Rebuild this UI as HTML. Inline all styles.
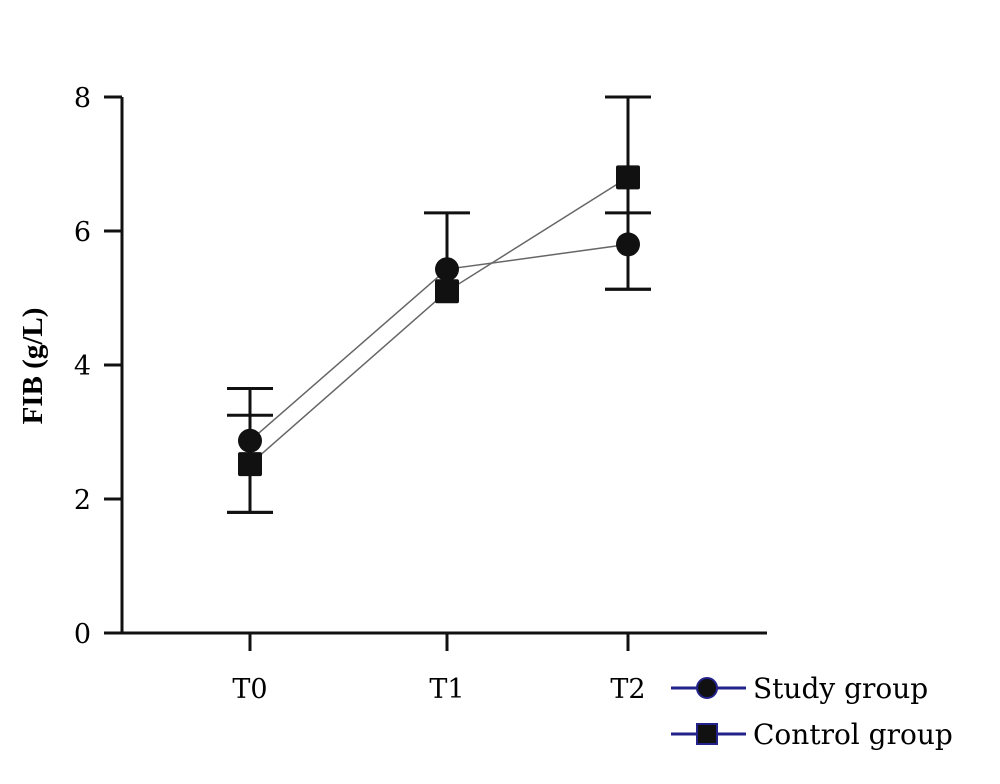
<!DOCTYPE html>
<html><head><meta charset="utf-8"><style>
body{margin:0;background:#fff}
text{font-family:"DejaVu Serif","Liberation Serif",serif}
</style></head><body>
<svg id="c" width="1000" height="779" xmlns="http://www.w3.org/2000/svg"></svg>
<script>
const categories=["T0","T1","T2"];
const yTicks=[0,2,4,6,8];
const studyMean=[2.87,5.43,5.80];
const studyUpper=[3.65,6.27,6.27];
const studyLower=[1.80,5.43,5.13];
const controlMean=[2.52,5.10,6.80];
const controlUpper=[3.25,5.10,8.00];
const controlLower=[1.80,5.10,5.13];
const NS="http://www.w3.org/2000/svg";
const svg=document.getElementById('c');
function y(v){return 633-67*v;}
const xPos={T0:250,T1:447,T2:628};
function x(c){return xPos[c];}
function el(t,a,p){const e=document.createElementNS(NS,t);for(const k in a)e.setAttribute(k,a[k]);(p||svg).appendChild(e);return e;}
let e;
e=el('line',{x1:122,y1:y(8),x2:122,y2:y(0)+1,stroke:'#111','stroke-width':3});


e=el('line',{x1:121,y1:y(0),x2:767,y2:y(0),stroke:'#111','stroke-width':3});


yTicks.forEach(v=>{
  e=el('line',{x1:104,y1:y(v),x2:122,y2:y(v),stroke:'#111','stroke-width':3});
  
  
  e=el('text',{x:91,y:y(v)+10,'text-anchor':'end','font-size':27});
  e.textContent=v;
  
  
});
categories.forEach(c=>{
  e=el('line',{x1:x(c),y1:y(0),x2:x(c),y2:y(0)+18,stroke:'#111','stroke-width':3});
  
  
  e=el('text',{x:x(c),y:698,'text-anchor':'middle','font-size':27});
  e.textContent=c;
  
  
});
e=el('text',{x:0,y:0,'text-anchor':'middle','font-size':29,'font-weight':'bold',transform:'translate(42,366) rotate(-90)',style:'font-family:"Liberation Serif",serif'});
e.textContent='FIB (g/L)';


function series(name,mean,up,lo,shape){
  const g=el('g',{});
  
  
  categories.forEach((c,i)=>{
    if(up[i]>mean[i]){
      e=el('line',{x1:x(c),y1:y(mean[i]),x2:x(c),y2:y(up[i]),stroke:'#111','stroke-width':3},g);
      
      
      e=el('line',{x1:x(c)-23,y1:y(up[i]),x2:x(c)+23,y2:y(up[i]),stroke:'#111','stroke-width':3},g);
      
      
    }
    if(lo[i]<mean[i]){
      e=el('line',{x1:x(c),y1:y(mean[i]),x2:x(c),y2:y(lo[i]),stroke:'#111','stroke-width':3},g);
      
      
      e=el('line',{x1:x(c)-23,y1:y(lo[i]),x2:x(c)+23,y2:y(lo[i]),stroke:'#111','stroke-width':3},g);
      
      
    }
  });
  e=el('polyline',{points:categories.map((c,i)=>x(c)+','+y(mean[i])).join(' '),fill:'none',stroke:'#666','stroke-width':1.5},g);
  
  
  categories.forEach((c,i)=>{
    if(shape==='circle') e=el('circle',{cx:x(c),cy:y(mean[i]),r:12,fill:'#111'},g);
    else e=el('rect',{x:x(c)-12,y:y(mean[i])-12,width:24,height:24,rx:2,fill:'#111'},g);
    
    
  });
}
series('control',controlMean,controlUpper,controlLower,'square');
series('study',studyMean,studyUpper,studyLower,'circle');
function legend(label,cy,shape,nm){
  const g=el('g',{});
  
  
  el('line',{x1:671,y1:cy,x2:746,y2:cy,stroke:'#22228a','stroke-width':3},g);
  if(shape==='circle') el('circle',{cx:707,cy:cy,r:10,fill:'#111',stroke:'#22228a','stroke-width':2},g);
  else el('rect',{x:697,y:cy-10,width:20,height:20,fill:'#111',stroke:'#22228a','stroke-width':2},g);
  const t=el('text',{x:753,y:cy+10,'font-size':28},g);
  t.textContent=label;
}
legend('Study group',688,'circle','legend-study');
legend('Control group',734,'square','legend-control');
</script>
</body></html>
